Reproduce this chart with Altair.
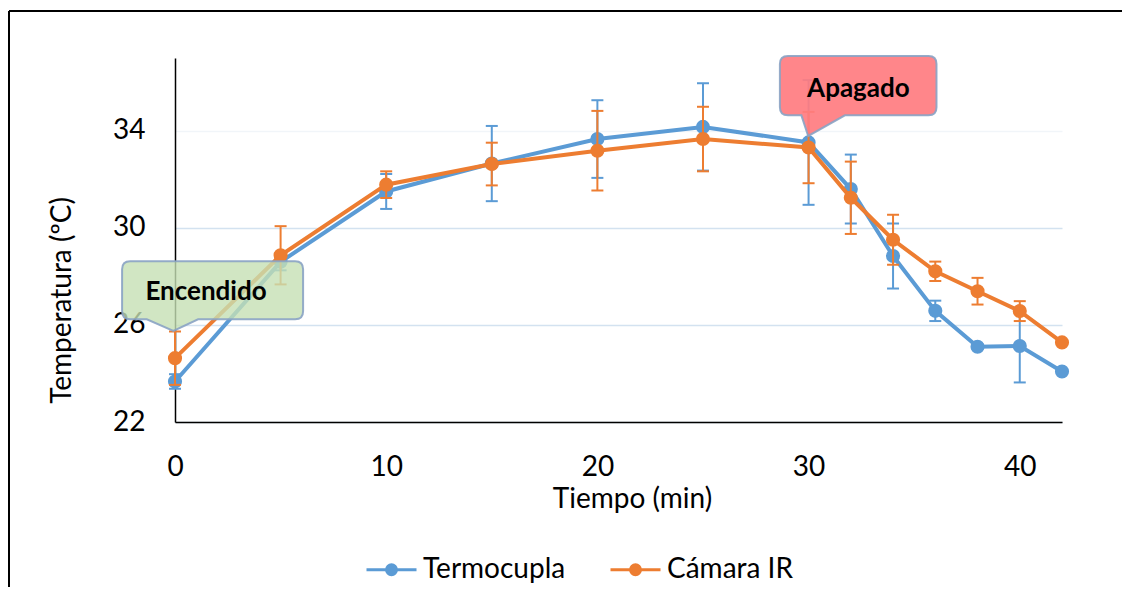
import altair as alt
import pandas as pd

# ---------------- data ----------------
tiempo = [0, 5, 10, 15, 20, 25, 30, 32, 34, 36, 38, 40, 42]
termocupla = [23.67, 28.6, 31.5, 32.65, 33.66, 34.16, 33.52, 31.6, 28.84, 26.58, 25.1, 25.13, 24.08]
termocupla_err = [0.3, 0.35, 0.72, 1.55, 1.6, 1.8, 2.57, 1.42, 1.34, 0.42, 0.1, 1.5, 0.1]
camara_ir = [24.63, 28.87, 31.78, 32.63, 33.18, 33.66, 33.31, 31.24, 29.51, 28.21, 27.39, 26.57, 25.28]
camara_ir_err = [1.1, 1.2, 0.55, 0.88, 1.64, 1.33, 1.47, 1.49, 1.03, 0.4, 0.55, 0.41, 0.1]

series = ["Termocupla", "Cámara IR"]
colors = ["#5B9BD5", "#ED7D31"]

x_ticks = [0, 10, 20, 30, 40]
y_ticks = [22, 26, 30, 34]

# annotations (data coordinates)
ann_text = ["Encendido", "Apagado"]
ann_text_x = [1.47, 32.36]
ann_text_y = [27.35, 35.72]
callout_x = [1.78, 32.35]
callout_y = [27.43, 35.86]

rows = []
for name, vals, errs in [(series[0], termocupla, termocupla_err),
                         (series[1], camara_ir, camara_ir_err)]:
    for t, v, e in zip(tiempo, vals, errs):
        rows.append({"t": t, "v": v, "e": e, "serie": name})
df = pd.DataFrame(rows)

FONT = "Lato"

# ---------------- scales / axes ----------------
xscale = alt.Scale(domain=[0, 42], nice=False, zero=False)
yscale = alt.Scale(domain=[22, 37], nice=False, zero=False)

xaxis = alt.Axis(values=x_ticks, title="Tiempo (min)", grid=False, ticks=False,
                 domainColor="#000000", domainWidth=1.5,
                 labelFontSize=28, labelFont=FONT, labelColor="#000000",
                 labelPadding=31, labelFlush=False,
                 titleFont=FONT, titleFontSize=28, titleFontWeight="normal",
                 titleColor="#000000", titleX=457, titleY=85,
                 titleBaseline="alphabetic", titleAlign="center", titleAnchor="start")
yaxis = alt.Axis(values=y_ticks, title="Temperatura (ºC)", ticks=False,
                 domainColor="#000000", domainWidth=1.5,
                 grid=True,
                 gridColor={"condition": {"test": "datum.value === 34", "value": "#F1F5F9"},
                            "value": "#D3E2F0"},
                 gridWidth=1.5,
                 labelFontSize=28, labelFont=FONT, labelColor="#000000",
                 labelPadding=30,
                 titleFont=FONT, titleFontSize=28, titleFontWeight="normal",
                 titleColor="#000000", titleX=-113, titleY=242, titleBaseline="middle",
                 titleAngle=270, titleAlign="center")

color_scale = alt.Scale(domain=series, range=colors)

# legend symbol: a line with a (stroke-filled) marker in the middle
legend_symbol = ("M-1,0L1,0"
                 "M0.06,0A0.06,0.06,0,1,1,-0.06,0A0.06,0.06,0,1,1,0.06,0"
                 "M0.14,0A0.14,0.14,0,1,1,-0.14,0A0.14,0.14,0,1,1,0.14,0"
                 "M0.2,0A0.2,0.2,0,1,1,-0.2,0A0.2,0.2,0,1,1,0.2,0")
legend = alt.Legend(title=None, orient="none", direction="horizontal",
                    legendX=190, legendY=485,
                    symbolType=legend_symbol, symbolSize=2500, symbolStrokeWidth=3,
                    labelFont=FONT, labelFontSize=28, labelColor="#000000",
                    labelOffset=5, columnPadding=38, labelLimit=400)

X = alt.X("t:Q", scale=xscale, axis=xaxis)
COLOR = alt.Color("serie:N", scale=color_scale, legend=legend)

layers = []
for i, s in enumerate(series):
    base = alt.Chart(df).transform_filter(alt.datum.serie == s)
    err = base.transform_calculate(lo="datum.v - datum.e", hi="datum.v + datum.e")
    line = base.mark_line(strokeWidth=4).encode(
        x=X,
        y=alt.Y("v:Q", scale=yscale, axis=yaxis),
        color=COLOR)
    rule = err.mark_rule(strokeWidth=2).encode(
        x=X,
        y=alt.Y("lo:Q", scale=yscale, axis=yaxis),
        y2="hi:Q",
        color=COLOR)
    caps = err.transform_fold(["lo", "hi"], as_=["k", "ey"]).mark_point(
        shape="M-1,0L1,0", filled=False, size=144, strokeWidth=2, opacity=1).encode(
        x=X,
        y=alt.Y("ey:Q", scale=yscale, axis=yaxis),
        color=COLOR)
    pts = base.mark_circle(size=200, opacity=1).encode(
        x=X,
        y=alt.Y("v:Q", scale=yscale, axis=yaxis),
        color=COLOR)
    layers += [line, rule, caps, pts]


def callout_path(hw, hh, r, b1, b2, tipx, tipy, H=100.0):
    pts = [
        ("M", -hw + r, -hh), ("L", hw - r, -hh), ("Q", hw, -hh, hw, -hh + r),
        ("L", hw, hh - r), ("Q", hw, hh, hw - r, hh),
        ("L", b2, hh), ("L", tipx, tipy), ("L", b1, hh),
        ("L", -hw + r, hh), ("Q", -hw, hh, -hw, hh - r),
        ("L", -hw, -hh + r), ("Q", -hw, -hh, -hw + r, -hh),
    ]
    out = []
    for p in pts:
        cmd = p[0]
        nums = ",".join(f"{v / H:.4f}" for v in p[1:])
        out.append(cmd + nums)
    return "".join(out) + "Z"


enc_path = callout_path(90.5, 29, 8, -65.8, -14.5, -39.2, 40.7)
apa_path = callout_path(78.3, 29.7, 8, -56.8, -13.3, -50.0, 50.3)

call_df0 = pd.DataFrame({"x": [callout_x[0]], "y": [callout_y[0]]})
call_df1 = pd.DataFrame({"x": [callout_x[1]], "y": [callout_y[1]]})

callout_enc = alt.Chart(call_df0).mark_point(
    shape=enc_path, size=40000, filled=True, fill="#C5E0B4", fillOpacity=0.8,
    stroke="#8AA3C4", strokeWidth=2, strokeOpacity=0.9, opacity=1).encode(
    x=alt.X("x:Q", scale=xscale, axis=xaxis),
    y=alt.Y("y:Q", scale=yscale, axis=yaxis))
callout_apa = alt.Chart(call_df1).mark_point(
    shape=apa_path, size=40000, filled=True, fill="#FF7C80", fillOpacity=0.92,
    stroke="#8AA3C4", strokeWidth=2, strokeOpacity=0.9, opacity=1).encode(
    x=alt.X("x:Q", scale=xscale, axis=xaxis),
    y=alt.Y("y:Q", scale=yscale, axis=yaxis))

ann_df = pd.DataFrame({"label": ann_text, "x": ann_text_x, "y": ann_text_y})
ann = alt.Chart(ann_df).mark_text(font=FONT, fontSize=26, fontWeight="bold",
                                  color="#000000", align="center", baseline="middle").encode(
    x=alt.X("x:Q", scale=xscale, axis=xaxis),
    y=alt.Y("y:Q", scale=yscale, axis=yaxis),
    text="label:N")

frame_df = pd.DataFrame({"a": [0]})
border_top = alt.Chart(frame_df).mark_rule(stroke="#000000", strokeWidth=2).encode(
    x=alt.value(-166), x2=alt.value(2000), y=alt.value(-47))
border_left = alt.Chart(frame_df).mark_rule(stroke="#000000", strokeWidth=2).encode(
    x=alt.value(-166), y=alt.value(-47), y2=alt.value(900))

chart = alt.layer(*layers, callout_enc, callout_apa, ann, border_top, border_left).properties(
    width=887, height=364,
    autosize=alt.AutoSizeParams(type="none"),
    padding={"left": 167, "top": 50, "right": 60, "bottom": 165},
    background="white",
).configure_view(stroke=None)

chart.save("out.html", embed_options={"renderer": "svg", "actions": False})
